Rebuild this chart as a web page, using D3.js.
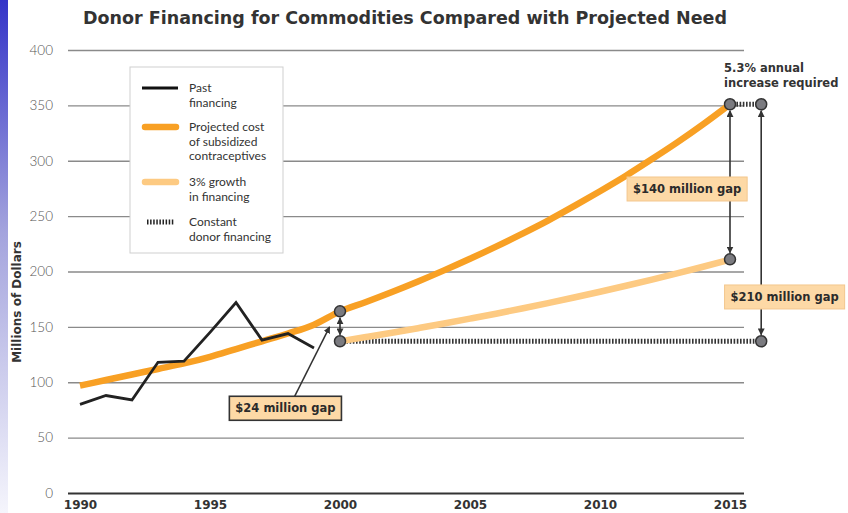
<!DOCTYPE html>
<html>
<head>
<meta charset="utf-8">
<script src="https://cdn.jsdelivr.net/npm/d3@7"></script>
<style>
  body { margin: 0; background: #fff; }
  text { font-family: Lato, "Open Sans", sans-serif; }
  .heavy { font-family: "DejaVu Sans", sans-serif; font-weight: bold; }
</style>
</head>
<body>
<script>
// Chart values
const pastYears = [1990, 1991, 1992, 1993, 1994, 1995, 1996, 1997, 1998, 1999];
const pastFinancing = [80, 88, 84, 118, 119, 145, 172, 138, 144, 131];

const projYears = d3.range(1990, 2016);
const projectedCost = [97, 102, 107, 112, 117, 123, 130, 137, 144, 152, 164,
  172.5, 181.5, 191, 201, 211.5, 222.5, 234, 246, 259, 272.5, 286.5, 301.5, 317, 333.5, 351];

const growthYears = d3.range(2000, 2016);
const growth3 = [137, 140.8, 144.7, 148.8, 153, 157.4, 161.9, 166.6, 171.5, 176.5,
  181.7, 187.1, 192.7, 198.5, 204.5, 210.7];

const constantYears = [2000, 2016.2];
const constantValue = 137;

const xTicks = [1990, 1995, 2000, 2005, 2010, 2015];
const yTicks = [0, 50, 100, 150, 200, 250, 300, 350, 400];

// gap markers: [year, from, to]
const gaps = [
  [2000, 137, 164],
  [2015, 211, 351],
  [2016.2, 137, 351]
];
const gapLabels = [
  { text: '$24 million gap', year: 1997.9, value: 76.5, dark: true },
  { text: '$140 million gap', year: 2013.35, value: 274.5, dark: false },
  { text: '$210 million gap', year: 2017.1, value: 177, dark: false }
];
const pointer24 = [[1998.25, 87], [1999.6, 150]];

const legendItems = [
  { lines: ['Past', 'financing'], type: 'past' },
  { lines: ['Projected cost', 'of subsidized', 'contraceptives'], type: 'proj' },
  { lines: ['3% growth', 'in financing'], type: 'growth' },
  { lines: ['Constant', 'donor financing'], type: 'const' }
];

const width = 848, height = 513;
const svg = d3.select('body').append('svg')
  .attr('width', width).attr('height', height);

const defs = svg.append('defs');
const grad = defs.append('linearGradient').attr('id', 'side')
  .attr('x1', 0).attr('y1', 0).attr('x2', 0).attr('y2', 1);
grad.append('stop').attr('offset', '0%').attr('stop-color', '#3434c8');
grad.append('stop').attr('offset', '45%').attr('stop-color', '#a3a3dd');
grad.append('stop').attr('offset', '100%').attr('stop-color', '#f5f5fc');

['start', 'end'].forEach(k => {
  defs.append('marker').attr('id', 'arrow-' + k)
    .attr('viewBox', '0 0 10 10').attr('refX', 9).attr('refY', 5)
    .attr('markerWidth', 7).attr('markerHeight', 7)
    .attr('markerUnits', 'userSpaceOnUse')
    .attr('orient', k === 'start' ? 'auto-start-reverse' : 'auto')
    .append('path').attr('d', 'M0,0L10,5L0,10z').attr('fill', '#333');
});

svg.append('rect').attr('x', 0).attr('y', 0).attr('width', 8).attr('height', height)
  .attr('fill', 'url(#side)');

const x = d3.scaleLinear().domain([1990, 2015]).range([80, 730]);
const y = d3.scaleLinear().domain([0, 400]).range([493, 50]);

// Title
svg.append('text').attr('class', 'heavy')
  .attr('x', 405).attr('y', 24)
  .attr('text-anchor', 'middle')
  .attr('font-size', 17.5).attr('fill', '#333')
  .text('Donor Financing for Commodities Compared with Projected Need');

// y axis with grid
const yAxis = svg.append('g').attr('transform', 'translate(68,0)')
  .call(d3.axisLeft(y).tickValues(yTicks).tickSize(-676).tickPadding(15));
yAxis.select('.domain').remove();
yAxis.selectAll('line').attr('stroke', '#8a8a8a').attr('stroke-width', 1.4);
yAxis.selectAll('.tick').filter(d => d === 0).select('line')
  .attr('stroke', '#333').attr('stroke-width', 2.2);
yAxis.selectAll('text').attr('font-size', 13.5).attr('fill', '#555')
  .style('font-family', 'Lato, sans-serif').attr('font-weight', 300);

// x axis
const xAxis = svg.append('g').attr('transform', 'translate(0,493)')
  .call(d3.axisBottom(x).tickValues(xTicks).tickSize(0).tickPadding(7).tickFormat(d3.format('d')));
xAxis.select('.domain').remove();
xAxis.selectAll('text').attr('class', 'heavy').attr('font-size', 12).attr('fill', '#333')
  .style('font-family', '"DejaVu Sans", sans-serif');

svg.append('text').attr('class', 'heavy')
  .attr('transform', 'translate(21,302) rotate(-90)')
  .attr('text-anchor', 'middle')
  .attr('font-size', 12).attr('fill', '#333')
  .text('Millions of Dollars');

// Legend
const legend = svg.append('g').attr('transform', 'translate(130,67)');
legend.append('rect').attr('width', 153).attr('height', 186)
  .attr('fill', '#fff').attr('stroke', '#cfcfcf').attr('stroke-width', 1);
const legendY = [21, 60, 115, 155];
legendItems.forEach((item, i) => {
  const g = legend.append('g').attr('transform', `translate(0,${legendY[i]})`);
  const ln = g.append('line').attr('x1', 12).attr('x2', 48).attr('y1', 0).attr('y2', 0);
  if (item.type === 'past') ln.attr('stroke', '#111').attr('stroke-width', 3);
  if (item.type === 'proj') ln.attr('stroke', '#f8a024').attr('stroke-width', 6.5).attr('stroke-linecap', 'round').attr('x1', 15).attr('x2', 46);
  if (item.type === 'growth') ln.attr('stroke', '#fdca82').attr('stroke-width', 6.5).attr('stroke-linecap', 'round').attr('x1', 15).attr('x2', 46);
  if (item.type === 'const') ln.attr('stroke', '#222').attr('stroke-width', 5).attr('stroke-dasharray', '1.5,1.6').attr('x1', 17).attr('x2', 44);
  g.selectAll('text').data(item.lines).enter().append('text')
    .attr('x', 59).attr('y', (d, j) => 4 + j * 14.5)
    .attr('font-size', 12).attr('fill', '#333').attr('font-weight', 400)
    .text(d => d);
});

const line = d3.line().x(d => x(d[0])).y(d => y(d[1]));

// constant donor financing (hatched)
svg.append('path')
  .datum(constantYears.map(yr => [yr, constantValue]))
  .attr('d', line)
  .attr('fill', 'none').attr('stroke', '#333').attr('stroke-width', 5)
  .attr('stroke-dasharray', '1.6,1.6');

// short hatched link between 2015 points at top
svg.append('path')
  .datum([[2015, 351], [2016.2, 351]])
  .attr('d', line)
  .attr('fill', 'none').attr('stroke', '#333').attr('stroke-width', 5)
  .attr('stroke-dasharray', '1.6,1.6');

// 3% growth
svg.append('path')
  .datum(growthYears.map((yr, i) => [yr, growth3[i]]))
  .attr('d', line.curve(d3.curveMonotoneX))
  .attr('fill', 'none').attr('stroke', '#fdca82').attr('stroke-width', 6.5);

// projected cost
svg.append('path')
  .datum(projYears.map((yr, i) => [yr, projectedCost[i]]))
  .attr('d', line.curve(d3.curveMonotoneX))
  .attr('fill', 'none').attr('stroke', '#f8a024').attr('stroke-width', 6.5);

// past financing
svg.append('path')
  .datum(pastYears.map((yr, i) => [yr, pastFinancing[i]]))
  .attr('d', line.curve(d3.curveLinear))
  .attr('fill', 'none').attr('stroke', '#222').attr('stroke-width', 2.8)
  .attr('stroke-linejoin', 'miter');

// gap double arrows
const r = 5.5;
gaps.forEach(gp => {
  const gx = x(gp[0]);
  svg.append('line')
    .attr('x1', gx).attr('x2', gx)
    .attr('y1', y(gp[1]) - r - 1).attr('y2', y(gp[2]) + r + 1)
    .attr('stroke', '#333').attr('stroke-width', 1.6)
    .attr('marker-start', 'url(#arrow-start)')
    .attr('marker-end', 'url(#arrow-end)');
});

// pointer arrow for $24 gap
svg.append('line')
  .attr('x1', x(pointer24[0][0])).attr('y1', y(pointer24[0][1]))
  .attr('x2', x(pointer24[1][0])).attr('y2', y(pointer24[1][1]))
  .attr('stroke', '#333').attr('stroke-width', 1.5)
  .attr('marker-end', 'url(#arrow-end)');

// circles
const pts = [];
gaps.forEach(gp => { pts.push([gp[0], gp[1]]); pts.push([gp[0], gp[2]]); });
svg.selectAll('.pt').data(pts).enter().append('circle')
  .attr('class', 'pt')
  .attr('cx', d => x(d[0])).attr('cy', d => y(d[1])).attr('r', r)
  .attr('fill', '#7b7b80').attr('stroke', '#333').attr('stroke-width', 1.5);

// gap labels
gapLabels.forEach(lb => {
  const g = svg.append('g').attr('transform', `translate(${x(lb.year)},${y(lb.value)})`);
  const t = g.append('text').attr('class', 'heavy')
    .attr('text-anchor', 'middle').attr('dy', '0.36em')
    .attr('font-size', 11.5).attr('fill', '#2b2b2b')
    .text(lb.text);
  const bb = t.node().getBBox();
  g.insert('rect', 'text')
    .attr('x', bb.x - 6).attr('y', -12).attr('width', bb.width + 12).attr('height', 24)
    .attr('fill', '#fdd9a6')
    .attr('stroke', lb.dark ? '#333' : '#f3c78e').attr('stroke-width', lb.dark ? 1.6 : 1);
});

// 5.3% note
svg.append('text').attr('class', 'heavy')
  .attr('x', x(2014.77)).attr('y', y(380))
  .attr('font-size', 11.5).attr('fill', '#333')
  .selectAll('tspan').data(['5.3% annual', 'increase required']).enter().append('tspan')
  .attr('x', x(2014.77)).attr('dy', (d, i) => i === 0 ? 0 : 15)
  .text(d => d);
</script>
</body>
</html>
